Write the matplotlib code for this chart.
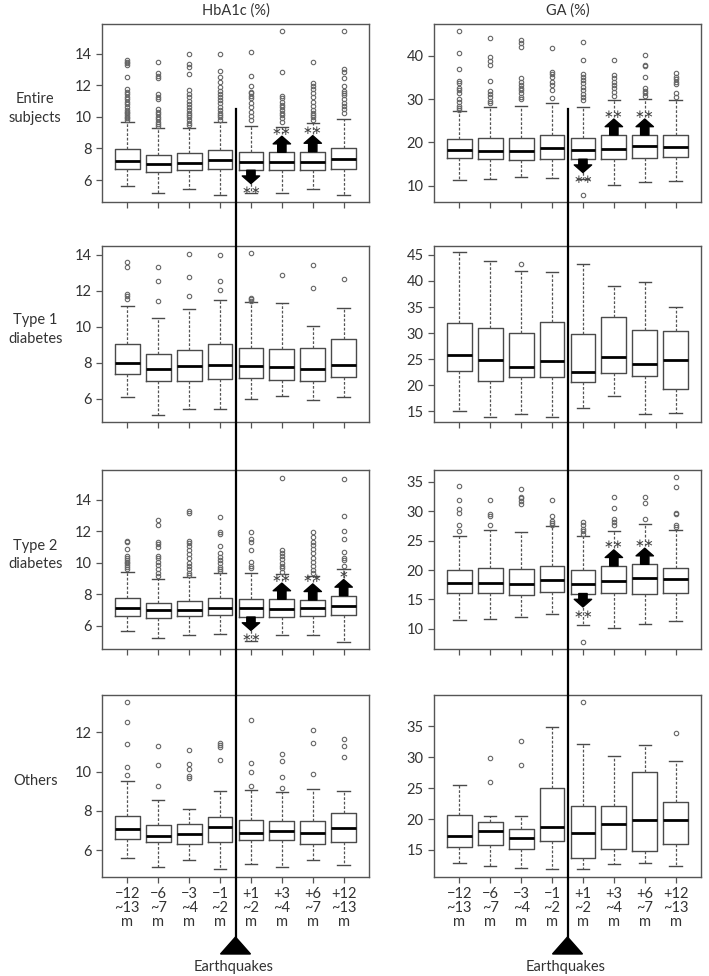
import matplotlib
matplotlib.use("Agg")
import matplotlib.pyplot as plt
from matplotlib.lines import Line2D
from matplotlib.patches import Polygon

plt.rcParams['font.family'] = ['Lato', 'DejaVu Sans']

# x labels (months from the earthquakes)
periods = ["\u221212\n~13\nm", "\u22126\n~7\nm", "\u22123\n~4\nm", "\u22121\n~2\nm",
           "+1\n~2\nm", "+3\n~4\nm", "+6\n~7\nm", "+12\n~13\nm"]
row_names = ["Entire\nsubjects", "Type 1\ndiabetes", "Type 2\ndiabetes", "Others"]
col_names = ["HbA1c (%)", "GA (%)"]

# five numbers per box: [whisker low, q1, median, q3, whisker high]
hba_entire = [[5.65, 6.70, 7.23, 7.95, 9.65], [5.16, 6.49, 7.02, 7.60, 9.27],
              [5.43, 6.62, 7.06, 7.71, 9.32], [5.08, 6.72, 7.25, 7.92, 9.65],
              [5.16, 6.62, 7.16, 7.76, 9.42], [5.16, 6.62, 7.12, 7.76, 9.38],
              [5.43, 6.62, 7.12, 7.80, 9.63], [5.08, 6.72, 7.31, 8.00, 9.89]]
hba_entire_out = [
    [13.6, 13.49, 13.39, 13.28, 12.5, 11.76, 11.59, 11.45, 11.28, 11.11, 10.96, 10.81,
     10.6, 10.43, 10.33, 10.22, 10.12, 10.01, 9.91, 9.8],
    [13.47, 12.76, 12.61, 12.44, 11.45, 11.28, 11.11, 10.48, 10.33, 10.18, 10.01, 9.84,
     9.7, 9.55, 9.42],
    [14.0, 13.32, 13.18, 12.7, 11.7, 11.45, 11.24, 11.03, 10.81, 10.6, 10.43, 10.27,
     10.12, 9.97, 9.8, 9.63, 9.49],
    [14.0, 12.92, 12.54, 12.23, 11.91, 11.66, 11.45, 11.24, 11.07, 10.86, 10.65, 10.43,
     10.27, 10.12, 9.97, 9.8],
    [14.08, 12.6, 11.97, 11.6, 11.49, 11.32, 11.17, 10.9, 10.6, 10.33, 10.05, 9.8],
    [15.46, 12.82, 11.32, 11.17, 10.96, 10.75, 10.6, 10.43, 10.27, 10.12, 9.91, 9.7],
    [13.47, 12.12, 11.95, 11.74, 11.49, 11.24, 10.96, 10.69, 10.43, 10.27, 10.12, 9.97, 9.8],
    [15.43, 13.0, 12.82, 12.44, 11.97, 11.66, 11.53, 11.38, 11.11, 10.9, 10.69, 10.48, 10.27]]

ga_entire = [[11.4, 16.33, 18.18, 20.8, 27.2], [11.55, 16.1, 18.0, 20.96, 28.3],
             [11.9, 15.9, 18.1, 21.1, 28.5], [11.8, 16.25, 18.7, 21.65, 29.1],
             [11.5, 16.1, 18.18, 21.1, 28.2], [10.16, 16.25, 18.57, 21.7, 29.7],
             [10.78, 16.33, 19.1, 21.7, 30.1], [11.16, 16.64, 18.87, 21.7, 29.9]]
ga_entire_out = [
    [45.8, 40.6, 37.0, 34.3, 33.83, 32.68, 32.14, 31.52, 30.13, 29.44, 28.43, 27.97, 27.5],
    [44.1, 39.8, 38.92, 37.8, 34.1, 32.0, 31.21, 30.44, 29.67, 29.2],
    [43.7, 42.93, 42.16, 34.83, 34.06, 33.29, 32.68, 32.14, 31.36, 30.6, 29.98],
    [41.77, 36.38, 35.76, 35.07, 34.06, 33.29, 32.14, 30.21],
    [7.85, 43.24, 39.07, 35.84, 35.22, 34.45, 33.68, 32.91, 32.14, 31.21, 30.44, 29.82],
    [39.07, 35.6, 34.83, 34.06, 33.29, 32.52, 31.75, 30.75],
    [40.23, 37.92, 37.69, 35.07, 32.52, 31.98, 31.36, 30.75],
    [35.99, 35.22, 34.6, 34.06, 33.52, 31.52, 30.44]]

hba_type1 = [[6.11, 7.37, 8.0, 9.03, 11.15], [5.11, 7.0, 7.64, 8.49, 10.47],
             [5.41, 7.0, 7.81, 8.71, 10.98], [5.41, 7.11, 7.9, 9.03, 11.5],
             [6.0, 7.14, 7.81, 8.82, 11.35], [6.17, 7.05, 7.77, 8.79, 11.34],
             [5.91, 7.0, 7.66, 8.82, 10.02], [6.11, 7.22, 7.86, 9.32, 11.02]]
hba_type1_out = [[13.6, 13.3, 11.82, 11.7, 11.56], [13.3, 12.55, 11.43], [14.05, 12.76, 11.72],
                 [14.0, 12.54, 12.04], [14.1, 11.6, 11.52, 11.45], [12.87],
                 [13.4, 12.13], [12.65]]

ga_type1 = [[15.06, 22.8, 25.87, 32.0, 45.5], [13.98, 20.8, 24.85, 31.05, 43.8],
            [14.42, 21.5, 23.57, 30.09, 41.9], [13.98, 21.65, 24.65, 32.13, 41.66],
            [15.7, 20.69, 22.48, 29.9, 43.2], [18.0, 22.42, 25.49, 33.16, 39.04],
            [14.42, 21.84, 24.08, 30.6, 39.87], [14.62, 19.28, 24.78, 30.35, 35.08]]
ga_type1_out = [[], [], [43.3], [], [], [], [], []]

hba_type2 = [[5.68, 6.63, 7.12, 7.76, 9.45], [5.22, 6.49, 7.02, 7.48, 9.0],
             [5.43, 6.63, 7.02, 7.61, 9.09], [5.47, 6.7, 7.17, 7.76, 9.34],
             [5.07, 6.57, 7.12, 7.7, 9.34], [5.43, 6.57, 7.1, 7.7, 9.28],
             [5.43, 6.63, 7.12, 7.65, 9.17], [5.0, 6.7, 7.27, 7.93, 9.6]]
hba_type2_out = [
    [11.4, 11.35, 10.87, 10.44, 10.3, 10.19, 10.08, 9.98, 9.87, 9.72, 9.6],
    [12.73, 12.41, 11.35, 11.21, 11.04, 10.44, 10.3, 10.08, 9.87, 9.6, 9.34, 9.17],
    [13.32, 13.2, 11.4, 11.25, 11.08, 10.83, 10.57, 10.3, 10.02, 9.81, 9.6, 9.39, 9.24],
    [12.9, 11.99, 11.84, 11.08, 10.66, 10.36, 10.19, 9.98, 9.77, 9.6, 9.51],
    [11.95, 11.5, 11.35, 10.82, 10.08, 9.81, 9.66],
    [15.4, 10.82, 10.66, 10.44, 10.23, 10.02, 9.81, 9.66, 9.45],
    [11.95, 11.63, 11.35, 11.14, 10.87, 10.61, 10.3, 10.08, 9.81, 9.56, 9.39],
    [15.35, 13.0, 12.0, 11.55, 10.72, 10.3, 10.19, 9.81]]

ga_type2 = [[11.43, 16.06, 17.77, 20.06, 25.83], [11.6, 16.06, 17.77, 20.34, 26.74],
            [12.0, 15.77, 17.66, 20.17, 26.5], [12.57, 16.23, 18.29, 20.69, 27.43],
            [10.63, 16.0, 17.6, 19.94, 25.71], [10.17, 16.11, 18.17, 20.69, 26.63],
            [10.86, 16.0, 18.57, 20.97, 27.89], [11.31, 16.11, 18.4, 20.34, 26.74]]
ga_type2_out = [
    [34.3, 31.9, 30.3, 29.7, 27.7, 26.7],
    [31.9, 29.5, 29.2, 27.7],
    [33.7, 32.46, 32.2, 31.8, 31.2],
    [31.9, 29.14, 28.3, 28.0, 27.7],
    [7.71, 28.17, 27.6, 27.0, 26.6, 26.2],
    [32.46, 30.46, 28.74, 28.17, 27.7],
    [32.46, 31.43, 28.6],
    [35.8, 34.17, 29.7, 29.6, 27.7, 27.3]]

hba_others = [[5.59, 6.56, 7.07, 7.76, 9.53], [5.17, 6.41, 6.73, 7.29, 8.58],
              [5.51, 6.32, 6.81, 7.34, 8.12], [5.03, 6.41, 7.17, 7.68, 9.03],
              [5.29, 6.53, 6.9, 7.54, 9.07], [5.14, 6.53, 7.0, 7.49, 8.98],
              [5.51, 6.32, 6.9, 7.49, 9.14], [5.24, 6.44, 7.14, 7.92, 9.03]]
hba_others_out = [[13.53, 12.53, 11.39, 10.24, 9.81], [11.32, 10.32, 9.25],
                  [11.12, 10.37, 10.12, 9.8, 9.66], [11.44, 11.34, 11.27, 10.61],
                  [12.64, 10.42, 9.98, 9.27], [10.9, 10.54, 9.71, 9.19],
                  [12.12, 11.44, 9.86], [11.68, 11.32, 10.76]]

ga_others = [[12.95, 15.54, 17.27, 20.57, 25.54], [12.46, 15.76, 18.08, 19.49, 20.51],
             [12.03, 15.11, 16.89, 18.41, 20.41], [11.97, 16.41, 18.73, 25.0, 34.95],
             [11.97, 13.65, 17.81, 22.14, 32.14], [12.78, 15.16, 19.16, 22.14, 30.14],
             [12.89, 14.78, 19.76, 27.7, 31.92], [12.41, 15.92, 19.92, 22.78, 29.38]]
ga_others_out = [[], [29.92, 25.97], [32.68, 28.68], [], [39.0], [], [], [33.92]]

# significance marks: (box number, direction, label)
sig_entire = [(5, 'down', '\u2217\u2217'), (6, 'up', '\u2217\u2217'), (7, 'up', '\u2217\u2217')]
sig_type2_hba = [(5, 'down', '\u2217\u2217'), (6, 'up', '\u2217\u2217'), (7, 'up', '\u2217\u2217'),
                 (8, 'up', '\u2217')]
sig_type2_ga = [(5, 'down', '\u2217\u2217'), (6, 'up', '\u2217\u2217'), (7, 'up', '\u2217\u2217')]

panels = [
    (hba_entire, hba_entire_out, sig_entire, (4.61, 15.88), [6, 8, 10, 12, 14]),
    (ga_entire, ga_entire_out, sig_entire, (6.2, 47.4), [10, 20, 30, 40]),
    (hba_type1, hba_type1_out, [], (4.71, 14.48), [6, 8, 10, 12, 14]),
    (ga_type1, ga_type1_out, [], (12.95, 46.7), [15, 20, 25, 30, 35, 40, 45]),
    (hba_type2, hba_type2_out, sig_type2_hba, (4.54, 15.9), [6, 8, 10, 12, 14]),
    (ga_type2, ga_type2_out, sig_type2_ga, (6.57, 37.0), [10, 15, 20, 25, 30, 35]),
    (hba_others, hba_others_out, [], (4.64, 13.9), [6, 8, 10, 12]),
    (ga_others, ga_others_out, [], (10.6, 40.1), [15, 20, 25, 30, 35]),
]

W, H = 709, 976
fig = plt.figure(figsize=(W / 100, H / 100), dpi=100)

col_x = [(102, 369), (434, 701)]
row_y = [(24, 202), (246, 422), (470, 649), (695, 877)]

axes = []
for i, (five, outs, sig, ylim, yticks) in enumerate(panels):
    r, c = divmod(i, 2)
    x0, x1 = col_x[c]
    y0, y1 = row_y[r]
    ax = fig.add_axes([x0 / W, 1 - y1 / H, (x1 - x0) / W, (y1 - y0) / H])
    axes.append(ax)
    stats = []
    for f, o in zip(five, outs):
        stats.append(dict(whislo=f[0], q1=f[1], med=f[2], q3=f[3], whishi=f[4], fliers=o))
    ax.bxp(stats, positions=range(1, 9), widths=0.8, showfliers=True,
           boxprops=dict(color='#4a4a4a', lw=1.0),
           medianprops=dict(color='black', lw=2.0),
           whiskerprops=dict(color='#555555', lw=0.9, linestyle=(0, (2.2, 1.4))),
           capprops=dict(color='#4a4a4a', lw=1.0),
           flierprops=dict(marker='o', markerfacecolor='none', markeredgecolor='#666666',
                           markersize=3.2, markeredgewidth=0.8))
    ax.set_xlim(0.18, 8.82)
    ax.set_ylim(*ylim)
    ax.set_yticks(yticks)
    ax.set_xticks(range(1, 9))
    ax.tick_params(axis='both', direction='out', length=4, width=0.9, color='#555555',
                   labelsize=10.5, labelcolor='#333333')
    if r == 3:
        ax.set_xticklabels(periods, linespacing=1.0)
    else:
        ax.set_xticklabels([])
    for s in ax.spines.values():
        s.set_color('#555555')
        s.set_linewidth(1.0)
    if r == 0:
        ax.set_title(col_names[c], fontsize=10.5, color='#333333', pad=7)
    if c == 0:
        ax.text(-0.25, 0.525, row_names[r], transform=ax.transAxes, ha='center', va='center',
                fontsize=10.5, color='#333333', linespacing=1.45)

    rng = ylim[1] - ylim[0]
    for pos, direction, lab in sig:
        f = five[pos - 1]
        if direction == 'up':
            start, tip = f[3], f[3] + 0.09 * rng
            ty = tip + 0.028 * rng
        else:
            start, tip = f[1], f[1] - 0.075 * rng
            ty = tip - 0.04 * rng
        ax.annotate('', xy=(pos, tip), xytext=(pos, start),
                    arrowprops=dict(arrowstyle='simple,head_width=1.25,head_length=0.55,tail_width=0.6',
                                    color='black', mutation_scale=10, shrinkA=0, shrinkB=0),
                    zorder=5)
        ax.text(pos, ty, lab, ha='center', va='center', fontsize=8.5, color='#444444',
                family='DejaVu Sans', zorder=6)

# earthquake marker line and triangle below each column
inv = fig.transFigure.inverted()
for c in range(2):
    ax = axes[c]
    xd = ax.transData.transform((4.5, 0))[0]
    xf = inv.transform((xd, 0))[0]
    top = 1 - 109 / H
    apex = 1 - 937 / H
    base = 1 - 954 / H
    half = 15 / W
    fig.add_artist(Line2D([xf, xf], [top, apex], color='black', lw=1.6, zorder=10))
    fig.add_artist(Polygon([[xf, apex], [xf - half, base], [xf + half, base]], closed=True,
                           facecolor='black', edgecolor='black', zorder=10))
    fig.text(xf - 2 / W, 1 - 967 / H, "Earthquakes", ha='center', va='center',
             fontsize=10.5, color='#333333')

fig.savefig("out.png", dpi=100)
